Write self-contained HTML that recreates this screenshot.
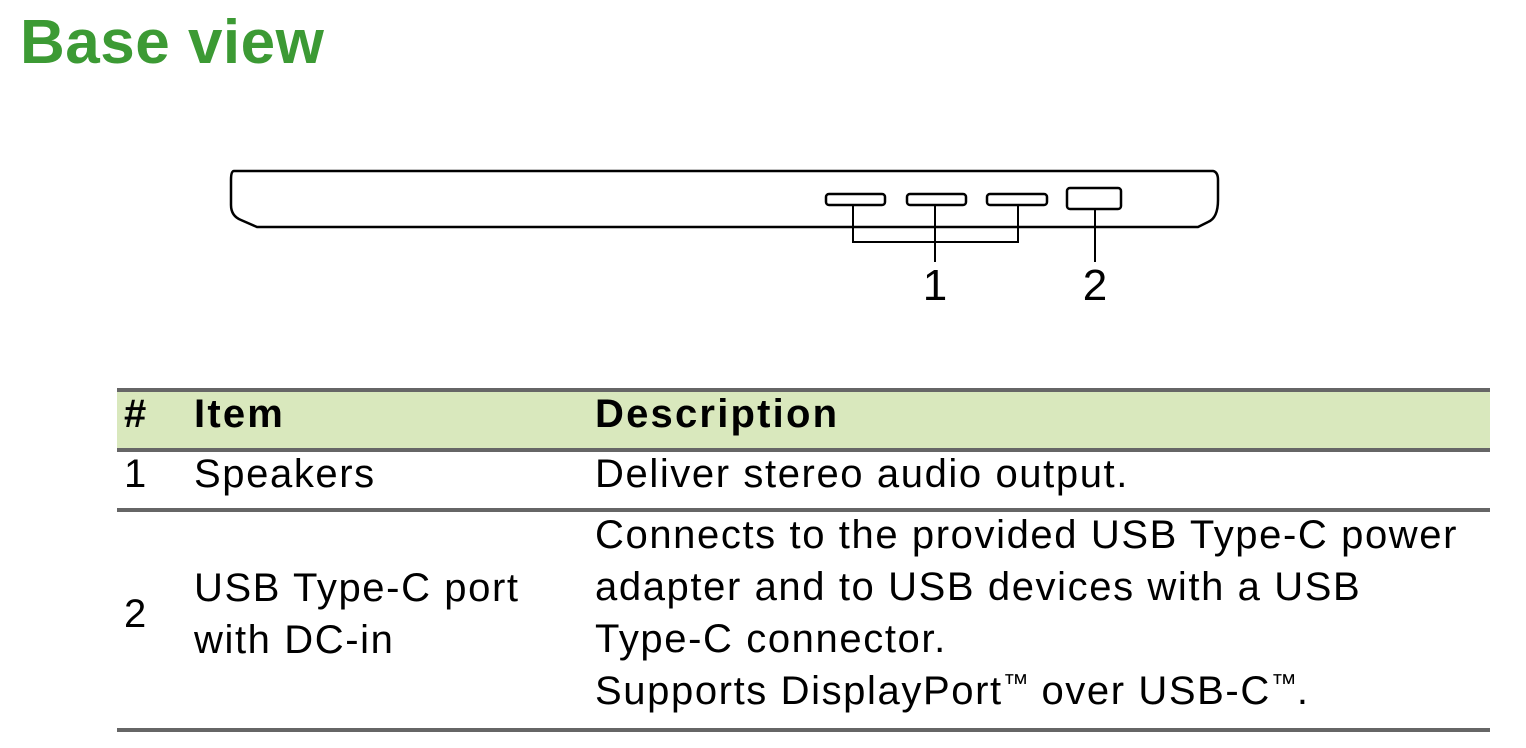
<!DOCTYPE html>
<html><head><style>
body{margin:0;width:1526px;height:748px;background:#fff;position:relative;font-family:"Liberation Sans",Arial,sans-serif;overflow:hidden}
.t{position:absolute;left:20px;top:7px;font-size:62px;font-weight:bold;color:#3c9a34;letter-spacing:0.5px}
.tx{position:absolute;font-size:40px;color:#000;white-space:nowrap;line-height:52px;letter-spacing:1.6px}
.bd{font-weight:bold;letter-spacing:2.2px}
.b{position:absolute;left:117px;width:1373px;height:4px;background:#666}
.tm{font-size:26px;vertical-align:12px;letter-spacing:0;line-height:0}
</style></head><body>
<div class="t">Base view</div>
<svg style="position:absolute;left:0;top:0" width="1526" height="320">
<g fill="none" stroke="#000" stroke-width="2.5">
<path d="M234 171 L1213 171 Q1218 172 1218 180 L1218 200 Q1218 218 1208 222 L1198 227 L257 227 L241 220 Q231 216 231 205 L231 180 Q231 171 234 171 Z"/>
<rect x="826" y="194" width="59" height="11" rx="3"/>
<rect x="907" y="194" width="59" height="11" rx="3"/>
<rect x="987" y="194" width="60" height="11" rx="3"/>
<rect x="1067" y="188" width="54" height="21" rx="3"/>
<path d="M853 205 V242 H1018 V205 M935 205 V262 M1095 209 V262" stroke-width="2"/>
</g>
<text x="935" y="300" font-size="44" text-anchor="middle" font-family="Liberation Sans Narrow, Liberation Sans, sans-serif">1</text>
<text x="1095" y="300" font-size="44" text-anchor="middle" font-family="Liberation Sans Narrow, Liberation Sans, sans-serif">2</text>
</svg>
<div style="position:absolute;left:117px;top:392px;width:1373px;height:56px;background:#d9e8bd"></div>
<div class="b" style="top:388px"></div>
<div class="b" style="top:448px"></div>
<div class="b" style="top:508px"></div>
<div class="b" style="top:728px"></div>
<div class="tx bd" style="left:124px;top:388px">#</div>
<div class="tx bd" style="left:194px;top:388px">Item</div>
<div class="tx bd" style="left:595px;top:388px">Description</div>
<div class="tx" style="left:124px;top:448px">1</div>
<div class="tx" style="left:194px;top:448px">Speakers</div>
<div class="tx" style="left:595px;top:448px">Deliver stereo audio output.</div>
<div class="tx" style="left:124px;top:588px">2</div>
<div class="tx" style="left:194px;top:562px">USB Type-C port<br>with DC-in</div>
<div class="tx" style="left:595px;top:509px">Connects to the provided USB Type-C power<br>adapter and to USB devices with a USB<br>Type-C connector.<br>Supports DisplayPort<span class="tm">™</span> over USB-C<span class="tm">™</span>.</div>
</body></html>
